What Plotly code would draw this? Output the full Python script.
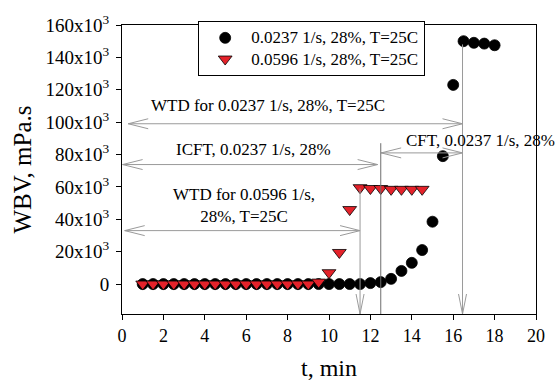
import plotly.graph_objects as go

# Time (min) and whole-blood viscosity (mPa.s) for the two shear rates
t_0237 = [1.0, 1.5, 2.0, 2.5, 3.0, 3.5, 4.0, 4.5, 5.0, 5.5, 6.0, 6.5, 7.0, 7.5,
          8.0, 8.5, 9.0, 9.5, 10.0, 10.5, 11.0, 11.5, 12.0, 12.5, 13.0, 13.5,
          14.0, 14.5, 15.0, 15.5, 16.0, 16.5, 17.0, 17.5, 18.0]
wbv_0237 = [0, 0, 0, 0, 0, 0, 0, 0, 0, 0, 0, 0, 0, 0,
            0, 0, 0, 0, 0, 0, 0, 0, 600, 1200, 3200, 8100,
            13100, 21000, 38500, 79000, 123000, 150000, 149000, 148500, 147500]

t_0596 = [1.0, 1.5, 2.0, 2.5, 3.0, 3.5, 4.0, 4.5, 5.0, 5.5, 6.0, 6.5, 7.0, 7.5,
          8.0, 8.5, 9.0, 9.5, 10.0, 10.5, 11.0, 11.5, 12.0, 12.5, 13.0, 13.5,
          14.0, 14.5]
wbv_0596 = [0, 0, 0, 0, 0, 0, 0, 0, 0, 0, 0, 0, 0, 0,
            0, 0, 0, 1200, 7000, 19500, 46000, 59500, 59000, 59000, 58500, 58500,
            58500, 58500]

y_tickvals = [0, 20000, 40000, 60000, 80000, 100000, 120000, 140000, 160000]
y_ticktext = ["0", "20x10<sup>3</sup>", "40x10<sup>3</sup>", "60x10<sup>3</sup>",
              "80x10<sup>3</sup>", "100x10<sup>3</sup>", "120x10<sup>3</sup>",
              "140x10<sup>3</sup>", "160x10<sup>3</sup>"]
x_tickvals = [0, 2, 4, 6, 8, 10, 12, 14, 16, 18, 20]

Y_MIN, Y_MAX = -18500, 160000

# Double-headed time-span arrows: (start, end, level)
spans = [(0.3, 16.45, 99000), (0.03, 12.35, 73800),
         (12.52, 16.45, 81000), (0.13, 11.5, 33000)]
# Vertical markers: (time, top, has arrowhead, colour)
drops = [(11.5, 59000, True, "#9a9a9a"), (12.5, 87000, False, "#6e6e6e"),
         (16.45, 148000, True, "#9a9a9a")]

FONT = "Liberation Serif"
GRAY = "#9a9a9a"


def legend_name(text):
    # larger glyphs than the legend's base font keeps the rows compact
    return '<span style="font-size:17px">' + text + "</span>"


fig = go.Figure()
fig.add_trace(go.Scatter(
    x=t_0237, y=wbv_0237, mode="markers",
    name=legend_name("0.0237 1/s, 28%, T=25C"),
    marker=dict(symbol="circle", size=11, color="black",
                line=dict(color="black", width=0.8)),
    cliponaxis=False))
fig.add_trace(go.Scatter(
    x=t_0596, y=wbv_0596, mode="markers",
    name=legend_name("0.0596 1/s, 28%, T=25C"),
    marker=dict(symbol="triangle-down", size=12, color="#e4222a",
                line=dict(color="black", width=0.8)),
    cliponaxis=False))

shapes = []


def head(x, y, path, color=GRAY):
    return dict(type="path", xref="x", yref="y", xsizemode="pixel",
                ysizemode="pixel", xanchor=x, yanchor=y, path=path,
                line=dict(color=color, width=1))


for x0, x1, y in spans:
    shapes.append(dict(type="line", xref="x", yref="y", x0=x0, x1=x1, y0=y, y1=y,
                       line=dict(color=GRAY, width=1)))
    shapes.append(head(x0, y, "M20,5L0,0L20,-5"))
    shapes.append(head(x1, y, "M-20,5L0,0L-20,-5"))

for x, top, arrow, color in drops:
    shapes.append(dict(type="line", xref="x", yref="y", x0=x, x1=x, y0=top,
                       y1=Y_MIN, line=dict(color=color, width=1)))
    if arrow:
        shapes.append(head(x, Y_MIN, "M-4,20L0,0L4,20", color))

fig.update_layout(shapes=shapes)

labels = [
    (7.04, 110000, "WTD for 0.0237 1/s, 28%, T=25C"),
    (6.36, 83200, "ICFT, 0.0237 1/s, 28%"),
    (17.3, 88800, "CFT, 0.0237 1/s, 28%"),
    (5.87, 48400, "WTD for 0.0596 1/s,<br>28%, T=25C"),
]
for x, y, txt in labels:
    fig.add_annotation(x=x, y=y, text=txt, showarrow=False, xanchor="center",
                       yanchor="middle", font=dict(family=FONT, size=17, color="black"))

fig.update_layout(
    width=557, height=390,
    margin=dict(l=122, r=16, t=14, b=76),
    paper_bgcolor="white", plot_bgcolor="white",
    font=dict(family=FONT, color="black"),
    showlegend=True,
    legend=dict(x=0.184, y=1.013, xanchor="left", yanchor="top",
                bordercolor="black", borderwidth=1, bgcolor="white",
                font=dict(family=FONT, size=14), itemwidth=42,
                tracegroupgap=0),
    xaxis=dict(range=[0, 20], tickvals=x_tickvals, ticks="outside", ticklen=5,
               tickcolor="black", showline=True, linecolor="black", linewidth=1,
               mirror=True, showgrid=False, zeroline=False,
               tickfont=dict(family=FONT, size=18),
               title=dict(text="t, min", font=dict(family=FONT, size=24), standoff=14)),
    yaxis=dict(range=[Y_MIN, Y_MAX], tickvals=y_tickvals, ticktext=y_ticktext,
               ticks="outside", ticklen=5, tickcolor="black", showline=True,
               linecolor="black", linewidth=1, mirror=True, showgrid=False,
               zeroline=False, tickfont=dict(family=FONT, size=19),
               ticklabelstandoff=3,
               title=dict(text="WBV, mPa.s", font=dict(family=FONT, size=25), standoff=6)),
)

fig.write_html("out.html")
